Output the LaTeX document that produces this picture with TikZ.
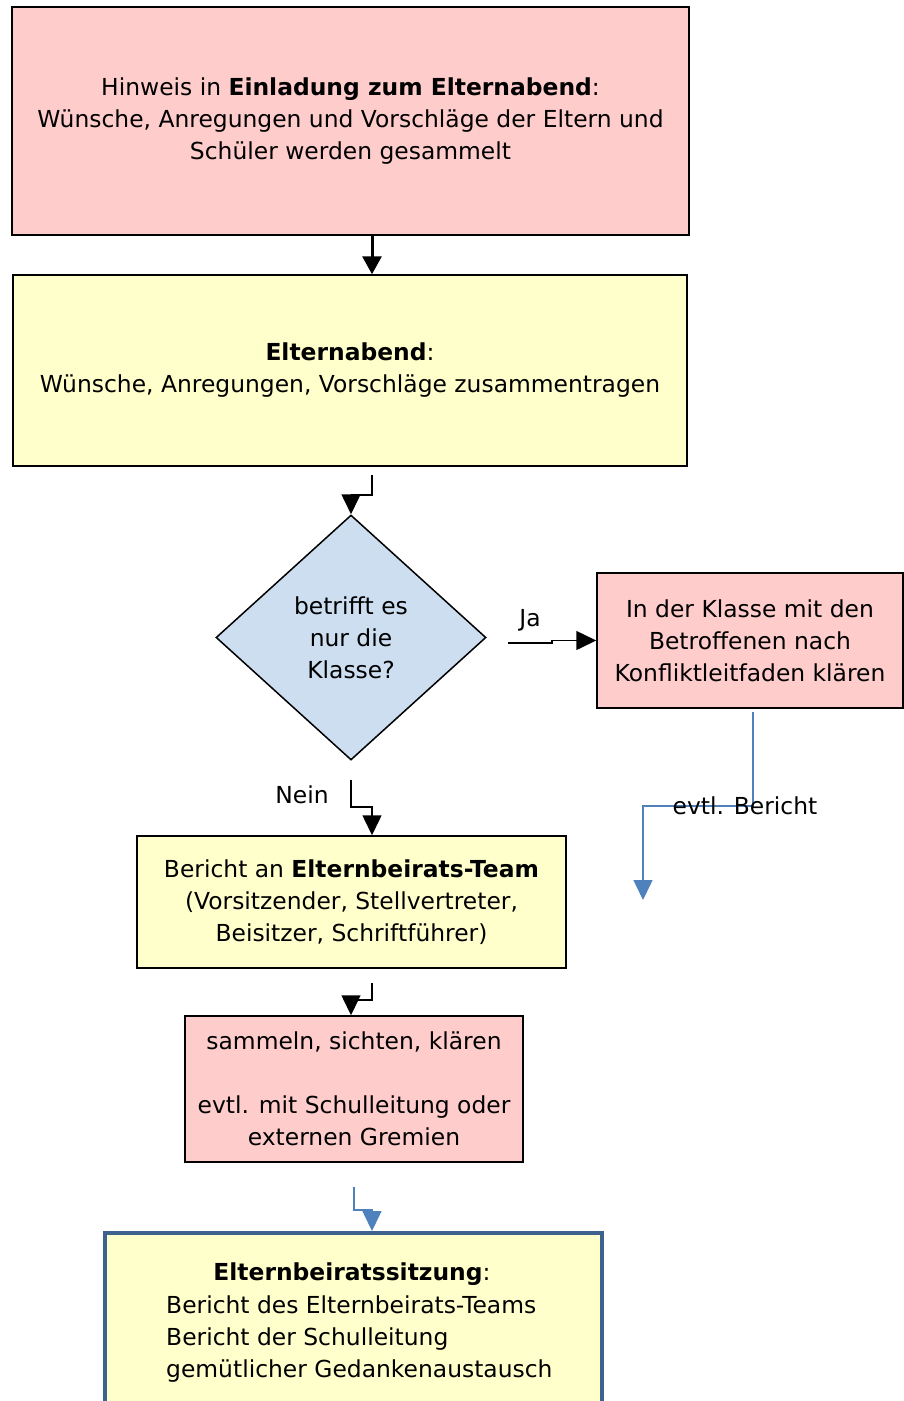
\documentclass[tikz,border=0pt]{standalone}
\usepackage{fontspec}
\setmainfont{DejaVu Sans}
\usetikzlibrary{arrows.meta,shapes.geometric}
\definecolor{pinkf}{HTML}{FFCCCC}
\definecolor{yellowf}{HTML}{FFFFCC}
\definecolor{bluef}{RGB}{204,222,240}
\definecolor{linkblue}{RGB}{79,129,189}
\definecolor{frameblue}{RGB}{62,98,142}
\begin{document}
\begin{tikzpicture}[x=1pt,y=-1pt,
  every node/.style={font=\fontsize{23.4}{32}\selectfont},
  box/.style={draw=black, line width=1.5pt, inner sep=0pt, align=center},
  conn/.style={line width=1.5pt, -{Triangle[length=20pt,width=19pt]}},
  bconn/.style={line width=1.5pt, draw=linkblue, -{Triangle[length=20pt,width=19pt,fill=linkblue]}},
  lbl/.style={inner sep=0pt}]
\useasboundingbox (0,0) rectangle (904,1401);
\clip (0,0) rectangle (904,1401);

\node[box, fill=pinkf, minimum width=677pt, minimum height=228pt] (n1) at (350.5,121)
  {Hinweis in \textbf{Einladung zum Elternabend}:\\ Wünsche, Anregungen und Vorschläge der Eltern und\\ Schüler werden gesammelt};
\node[box, fill=yellowf, minimum width=674pt, minimum height=191pt] (n2) at (350,370.5)
  {\textbf{Elternabend}:\\ Wünsche, Anregungen, Vorschläge zusammentragen};
\node[diamond, draw=black, line width=1.5pt, fill=bluef, inner sep=0pt, align=center,
  minimum width=270pt, minimum height=245pt] (d) at (351,637.5)
  {betrifft es\\ nur die\\ Klasse?};
\node[box, fill=pinkf, minimum width=306pt, minimum height=135pt] (r) at (750,640.5)
  {In der Klasse mit den\\ Betroffenen nach\\ Konfliktleitfaden klären};
\node[box, fill=yellowf, minimum width=429pt, minimum height=132pt] (n3) at (351.5,902)
  {Bericht an \textbf{Elternbeirats-Team}\\ (Vorsitzender, Stellvertreter,\\ Beisitzer, Schriftführer)};
\node[box, fill=pinkf, minimum width=338pt, minimum height=146pt] (n4) at (354,1089)
  {sammeln, sichten, klären\\[32pt] evtl. mit Schulleitung oder\\ externen Gremien};
\node[draw=frameblue, line width=4pt, fill=yellowf, inner sep=0pt,
  minimum width=497pt, minimum height=214pt] (n5) at (353.5,1340) {};
\node (t5) at (352,1274) {\textbf{Elternbeiratssitzung}:};
\node[anchor=west, align=left, inner sep=0pt] (l5) at (166,1339)
  {Bericht des Elternbeirats-Teams\\ Bericht der Schulleitung\\ gemütlicher Gedankenaustausch};

\coordinate (x372) at (372,0);
\coordinate (x351) at (351,0);
\coordinate (c2s) at (372,475);
\coordinate (ja) at (508,643);
\coordinate (bs) at (753,712);
\coordinate (be) at (643,900);
\coordinate (ns) at (351,780);
\coordinate (c4s) at (372,983);
\coordinate (c5s) at (354,1187);

\draw[line width=3pt, -{Triangle[length=18pt,width=19pt]}] (n1.south -| x372) -- (n2.north -| x372);
\draw[conn] (c2s) -- (372,495) -| (d.north);
\draw[conn] (ja) -- (552,643) -- (552,640.5) -- (r.west);
\draw[bconn] (bs) -- (753,806) -- (643,806) -- (be);
\draw[conn] (ns) -- (351,807) -- (372,807) -- (x372 |- n3.north);
\draw[conn] (c4s) -- (372,1000) -- (351,1000) -- (x351 |- n4.north);
\draw[bconn] (c5s) -- (354,1210) -- (372,1210) -- (x372 |- n5.north);

\node[lbl] (lja) at (530,620) {Ja};
\node[lbl] (lnein) at (302,795) {Nein};
\node[lbl] (lber) at (745,806) {evtl. Bericht};
\end{tikzpicture}
\end{document}
